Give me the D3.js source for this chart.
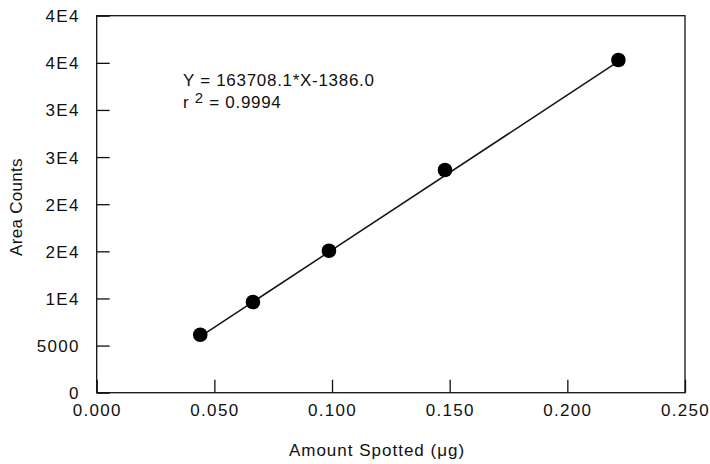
<!DOCTYPE html>
<html><head><meta charset="utf-8">
<script src="https://cdn.jsdelivr.net/npm/d3@7"></script>
<style>body{margin:0;background:#fff}text{font-family:"Liberation Sans",Arial,sans-serif;fill:#111}</style>
</head><body><svg id="c" width="710" height="464"></svg>
<script>
const amountSpotted = [0.0440, 0.0664, 0.0987, 0.1480, 0.2217];
const areaCounts = [6150, 9620, 15060, 23630, 35300];
const fitX = [0.0440, 0.2217];
const fitY = [5950, 35150];
const xTicks = [0, 0.05, 0.10, 0.15, 0.20, 0.25];
const xTickLabels = ["0.000","0.050","0.100","0.150","0.200","0.250"];
const yTicks = [0, 5000, 10000, 15000, 20000, 25000, 30000, 35000, 40000];
const yTickLabels = ["0","5000","1E4","2E4","2E4","3E4","3E4","4E4","4E4"];
const eqLine1 = "Y = 163708.1*X-1386.0";

const svg = d3.select("#c");
const L = 96.7, R = 685, T = 15.7, B = 392.7;
const FS = 17;
const x = d3.scaleLinear().domain([0, 0.25]).range([L, R]);
const y = d3.scaleLinear().domain([0, 40000]).range([B, T]);

svg.append("rect").attr("x", L).attr("y", T).attr("width", R - L).attr("height", B - T)
  .attr("fill", "none").attr("stroke", "#111").attr("stroke-width", 1.3);

const xa = svg.append("g").attr("transform", `translate(0,${B})`)
  .call(d3.axisBottom(x).tickValues(xTicks).tickFormat((d, i) => xTickLabels[i]).tickSizeInner(-13).tickSizeOuter(0));
const ya = svg.append("g").attr("transform", `translate(${L},0)`)
  .call(d3.axisLeft(y).tickValues(yTicks).tickFormat((d, i) => yTickLabels[i]).tickSizeInner(-13).tickSizeOuter(0));
[xa, ya].forEach(a => {
  a.select(".domain").remove();
  a.selectAll("line").attr("stroke", "#111").attr("stroke-width", 1.3);
  a.selectAll("text").attr("font-size", FS).attr("fill", "#111").attr("letter-spacing", 1.3)
    .style("font-family", '"Liberation Sans",Arial,sans-serif');
});
xa.selectAll(".tick text").attr("dy", "0.32em").attr("y", 18);
ya.selectAll(".tick text").attr("x", -17).attr("dy", "0.35em");

svg.append("line").attr("x1", x(fitX[0])).attr("y1", y(fitY[0])).attr("x2", x(fitX[1])).attr("y2", y(fitY[1]))
  .attr("stroke", "#111").attr("stroke-width", 1.5);

svg.selectAll("circle.pt").data(amountSpotted).join("circle").attr("class", "pt")
  .attr("cx", d => x(d)).attr("cy", (d, i) => y(areaCounts[i])).attr("r", 7.3).attr("fill", "#000");

svg.append("text").attr("x", 183).attr("y", 86).attr("font-size", FS).attr("letter-spacing", 0.7).text(eqLine1);
const t2 = svg.append("text").attr("x", 183).attr("y", 108).attr("font-size", FS).attr("letter-spacing", 0.7);
t2.append("tspan").text("r ");
t2.append("tspan").attr("font-size", 15).attr("dy", -5).text("2");
t2.append("tspan").attr("dy", 5).text(" = 0.9994");

svg.append("text").attr("x", 377).attr("y", 456).attr("text-anchor", "middle").attr("font-size", FS).attr("letter-spacing", 1).text("Amount Spotted (μg)");
svg.append("text").attr("transform", "translate(22,207) rotate(-90)").attr("text-anchor", "middle").attr("font-size", FS).attr("letter-spacing", 0.3).text("Area Counts");
</script></body></html>
